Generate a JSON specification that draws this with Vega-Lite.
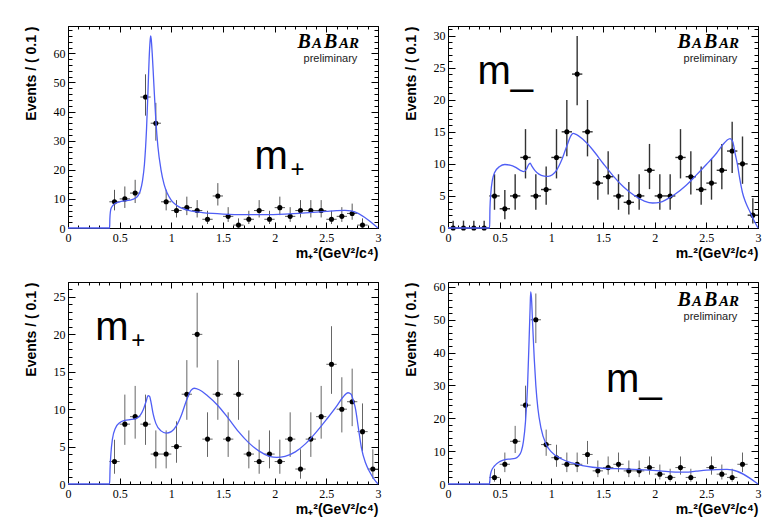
{
  "$schema": "https://vega.github.io/schema/vega-lite/v6.json",
  "background": "white",
  "padding": {"left": 23, "top": 25, "right": 5, "bottom": 5},
  "config": {"view": {"stroke": "#000", "strokeWidth": 1}, "font": "Liberation Sans",
    "axis": {"domain": false, "grid": false, "tickColor": "#000", "tickWidth": 1, "labelFont": "Liberation Serif", "labelFontSize": 12, "labelColor": "#000", "labelFlush": false, "labelOverlap": false, "titleFont": "Liberation Sans", "titleFontSize": 14, "titleFontWeight": "bold", "titleColor": "#000"}},
  "datasets": {
    "pts": [
      {"p":1,"x":0.45,"x0":0.4,"x1":0.5,"n":9,"lo":6.06,"hi":13.11},
      {"p":1,"x":0.55,"x0":0.5,"x1":0.6,"n":10,"lo":6.89,"hi":14.27},
      {"p":1,"x":0.65,"x0":0.6,"x1":0.7,"n":12,"lo":8.58,"hi":16.56},
      {"p":1,"x":0.75,"x0":0.7,"x1":0.8,"n":45,"lo":38.6,"hi":52.8},
      {"p":1,"x":0.85,"x0":0.8,"x1":0.9,"n":36,"lo":30.0,"hi":43.0},
      {"p":1,"x":0.95,"x0":0.9,"x1":1.0,"n":9,"lo":6.06,"hi":13.11},
      {"p":1,"x":1.05,"x0":1.0,"x1":1.1,"n":6,"lo":3.62,"hi":9.58},
      {"p":1,"x":1.15,"x0":1.1,"x1":1.2,"n":7,"lo":4.42,"hi":10.77},
      {"p":1,"x":1.25,"x0":1.2,"x1":1.3,"n":6,"lo":3.62,"hi":9.58},
      {"p":1,"x":1.35,"x0":1.3,"x1":1.4,"n":3,"lo":1.37,"hi":5.92},
      {"p":1,"x":1.45,"x0":1.4,"x1":1.5,"n":11,"lo":7.73,"hi":15.42},
      {"p":1,"x":1.55,"x0":1.5,"x1":1.6,"n":4,"lo":2.09,"hi":7.16},
      {"p":1,"x":1.65,"x0":1.6,"x1":1.7,"n":1,"lo":0.17,"hi":3.3},
      {"p":1,"x":1.75,"x0":1.7,"x1":1.8,"n":3,"lo":1.37,"hi":5.92},
      {"p":1,"x":1.85,"x0":1.8,"x1":1.9,"n":6,"lo":3.62,"hi":9.58},
      {"p":1,"x":1.95,"x0":1.9,"x1":2.0,"n":3,"lo":1.37,"hi":5.92},
      {"p":1,"x":2.05,"x0":2.0,"x1":2.1,"n":7,"lo":4.42,"hi":10.77},
      {"p":1,"x":2.15,"x0":2.1,"x1":2.2,"n":4,"lo":2.09,"hi":7.16},
      {"p":1,"x":2.25,"x0":2.2,"x1":2.3,"n":6,"lo":3.62,"hi":9.58},
      {"p":1,"x":2.35,"x0":2.3,"x1":2.4,"n":6,"lo":3.62,"hi":9.58},
      {"p":1,"x":2.45,"x0":2.4,"x1":2.5,"n":6,"lo":3.62,"hi":9.58},
      {"p":1,"x":2.55,"x0":2.5,"x1":2.6,"n":3,"lo":1.37,"hi":5.92},
      {"p":1,"x":2.65,"x0":2.6,"x1":2.7,"n":4,"lo":2.09,"hi":7.16},
      {"p":1,"x":2.75,"x0":2.7,"x1":2.8,"n":5,"lo":2.84,"hi":8.38},
      {"p":1,"x":2.85,"x0":2.8,"x1":2.9,"n":1,"lo":0.17,"hi":3.3},

      {"p":2,"x":0.05,"x0":0.0,"x1":0.1,"n":0,"lo":0,"hi":1.15},
      {"p":2,"x":0.15,"x0":0.1,"x1":0.2,"n":0,"lo":0,"hi":1.15},
      {"p":2,"x":0.25,"x0":0.2,"x1":0.3,"n":0,"lo":0,"hi":1.15},
      {"p":2,"x":0.35,"x0":0.3,"x1":0.4,"n":0,"lo":0,"hi":1.15},
      {"p":2,"x":0.45,"x0":0.4,"x1":0.5,"n":5,"lo":2.84,"hi":8.38},
      {"p":2,"x":0.55,"x0":0.5,"x1":0.6,"n":3,"lo":1.37,"hi":5.92},
      {"p":2,"x":0.65,"x0":0.6,"x1":0.7,"n":5,"lo":2.84,"hi":8.38},
      {"p":2,"x":0.75,"x0":0.7,"x1":0.8,"n":11,"lo":7.73,"hi":15.42},
      {"p":2,"x":0.85,"x0":0.8,"x1":0.9,"n":5,"lo":2.84,"hi":8.38},
      {"p":2,"x":0.95,"x0":0.9,"x1":1.0,"n":6,"lo":3.62,"hi":9.58},
      {"p":2,"x":1.05,"x0":1.0,"x1":1.1,"n":11,"lo":7.73,"hi":15.42},
      {"p":2,"x":1.15,"x0":1.1,"x1":1.2,"n":15,"lo":11.17,"hi":19.96},
      {"p":2,"x":1.25,"x0":1.2,"x1":1.3,"n":24,"lo":19.14,"hi":29.94},
      {"p":2,"x":1.35,"x0":1.3,"x1":1.4,"n":15,"lo":11.17,"hi":19.96},
      {"p":2,"x":1.45,"x0":1.4,"x1":1.5,"n":7,"lo":4.42,"hi":10.77},
      {"p":2,"x":1.55,"x0":1.5,"x1":1.6,"n":8,"lo":5.23,"hi":11.95},
      {"p":2,"x":1.65,"x0":1.6,"x1":1.7,"n":5,"lo":2.84,"hi":8.38},
      {"p":2,"x":1.75,"x0":1.7,"x1":1.8,"n":4,"lo":2.09,"hi":7.16},
      {"p":2,"x":1.85,"x0":1.8,"x1":1.9,"n":5,"lo":2.84,"hi":8.38},
      {"p":2,"x":1.95,"x0":1.9,"x1":2.0,"n":9,"lo":6.06,"hi":13.11},
      {"p":2,"x":2.05,"x0":2.0,"x1":2.1,"n":5,"lo":2.84,"hi":8.38},
      {"p":2,"x":2.15,"x0":2.1,"x1":2.2,"n":5,"lo":2.84,"hi":8.38},
      {"p":2,"x":2.25,"x0":2.2,"x1":2.3,"n":11,"lo":7.73,"hi":15.42},
      {"p":2,"x":2.35,"x0":2.3,"x1":2.4,"n":8,"lo":5.23,"hi":11.95},
      {"p":2,"x":2.45,"x0":2.4,"x1":2.5,"n":6,"lo":3.62,"hi":9.58},
      {"p":2,"x":2.55,"x0":2.5,"x1":2.6,"n":7,"lo":4.42,"hi":10.77},
      {"p":2,"x":2.65,"x0":2.6,"x1":2.7,"n":9,"lo":6.06,"hi":13.11},
      {"p":2,"x":2.75,"x0":2.7,"x1":2.8,"n":12,"lo":8.58,"hi":16.56},
      {"p":2,"x":2.85,"x0":2.8,"x1":2.9,"n":10,"lo":6.89,"hi":14.27},
      {"p":2,"x":2.95,"x0":2.9,"x1":3.0,"n":2,"lo":0.71,"hi":4.64},

      {"p":3,"x":0.45,"x0":0.4,"x1":0.5,"n":3,"lo":1.37,"hi":5.92},
      {"p":3,"x":0.55,"x0":0.5,"x1":0.6,"n":8,"lo":5.23,"hi":11.95},
      {"p":3,"x":0.65,"x0":0.6,"x1":0.7,"n":9,"lo":6.06,"hi":13.11},
      {"p":3,"x":0.75,"x0":0.7,"x1":0.8,"n":8,"lo":5.23,"hi":11.95},
      {"p":3,"x":0.85,"x0":0.8,"x1":0.9,"n":4,"lo":2.09,"hi":7.16},
      {"p":3,"x":0.95,"x0":0.9,"x1":1.0,"n":4,"lo":2.09,"hi":7.16},
      {"p":3,"x":1.05,"x0":1.0,"x1":1.1,"n":5,"lo":2.84,"hi":8.38},
      {"p":3,"x":1.15,"x0":1.1,"x1":1.2,"n":12,"lo":8.58,"hi":16.56},
      {"p":3,"x":1.25,"x0":1.2,"x1":1.3,"n":20,"lo":15.57,"hi":25.56},
      {"p":3,"x":1.35,"x0":1.3,"x1":1.4,"n":6,"lo":3.62,"hi":9.58},
      {"p":3,"x":1.45,"x0":1.4,"x1":1.5,"n":12,"lo":8.58,"hi":16.56},
      {"p":3,"x":1.55,"x0":1.5,"x1":1.6,"n":6,"lo":3.62,"hi":9.58},
      {"p":3,"x":1.65,"x0":1.6,"x1":1.7,"n":12,"lo":8.58,"hi":16.56},
      {"p":3,"x":1.75,"x0":1.7,"x1":1.8,"n":4,"lo":2.09,"hi":7.16},
      {"p":3,"x":1.85,"x0":1.8,"x1":1.9,"n":3,"lo":1.37,"hi":5.92},
      {"p":3,"x":1.95,"x0":1.9,"x1":2.0,"n":4,"lo":2.09,"hi":7.16},
      {"p":3,"x":2.05,"x0":2.0,"x1":2.1,"n":3,"lo":1.37,"hi":5.92},
      {"p":3,"x":2.15,"x0":2.1,"x1":2.2,"n":6,"lo":3.62,"hi":9.58},
      {"p":3,"x":2.25,"x0":2.2,"x1":2.3,"n":2,"lo":0.71,"hi":4.64},
      {"p":3,"x":2.35,"x0":2.3,"x1":2.4,"n":6,"lo":3.62,"hi":9.58},
      {"p":3,"x":2.45,"x0":2.4,"x1":2.5,"n":9,"lo":6.06,"hi":13.11},
      {"p":3,"x":2.55,"x0":2.5,"x1":2.6,"n":16,"lo":12.05,"hi":21.09},
      {"p":3,"x":2.65,"x0":2.6,"x1":2.7,"n":10,"lo":6.89,"hi":14.27},
      {"p":3,"x":2.75,"x0":2.7,"x1":2.8,"n":11,"lo":7.73,"hi":15.42},
      {"p":3,"x":2.85,"x0":2.8,"x1":2.9,"n":7,"lo":4.42,"hi":10.77},
      {"p":3,"x":2.95,"x0":2.9,"x1":3.0,"n":2,"lo":0.71,"hi":4.64},

      {"p":4,"x":0.45,"x0":0.4,"x1":0.5,"n":2,"lo":0.71,"hi":4.64},
      {"p":4,"x":0.55,"x0":0.5,"x1":0.6,"n":6,"lo":3.62,"hi":9.58},
      {"p":4,"x":0.65,"x0":0.6,"x1":0.7,"n":13,"lo":9.44,"hi":17.7},
      {"p":4,"x":0.75,"x0":0.7,"x1":0.8,"n":24,"lo":19.14,"hi":29.94},
      {"p":4,"x":0.85,"x0":0.8,"x1":0.9,"n":50,"lo":42.9,"hi":58.0},
      {"p":4,"x":0.95,"x0":0.9,"x1":1.0,"n":12,"lo":8.58,"hi":16.56},
      {"p":4,"x":1.05,"x0":1.0,"x1":1.1,"n":8,"lo":5.23,"hi":11.95},
      {"p":4,"x":1.15,"x0":1.1,"x1":1.2,"n":6,"lo":3.62,"hi":9.58},
      {"p":4,"x":1.25,"x0":1.2,"x1":1.3,"n":6,"lo":3.62,"hi":9.58},
      {"p":4,"x":1.35,"x0":1.3,"x1":1.4,"n":9,"lo":6.06,"hi":13.11},
      {"p":4,"x":1.45,"x0":1.4,"x1":1.5,"n":4,"lo":2.09,"hi":7.16},
      {"p":4,"x":1.55,"x0":1.5,"x1":1.6,"n":5,"lo":2.84,"hi":8.38},
      {"p":4,"x":1.65,"x0":1.6,"x1":1.7,"n":6,"lo":3.62,"hi":9.58},
      {"p":4,"x":1.75,"x0":1.7,"x1":1.8,"n":4,"lo":2.09,"hi":7.16},
      {"p":4,"x":1.85,"x0":1.8,"x1":1.9,"n":4,"lo":2.09,"hi":7.16},
      {"p":4,"x":1.95,"x0":1.9,"x1":2.0,"n":5,"lo":2.84,"hi":8.38},
      {"p":4,"x":2.05,"x0":2.0,"x1":2.1,"n":3,"lo":1.37,"hi":5.92},
      {"p":4,"x":2.15,"x0":2.1,"x1":2.2,"n":2,"lo":0.71,"hi":4.64},
      {"p":4,"x":2.25,"x0":2.2,"x1":2.3,"n":5,"lo":2.84,"hi":8.38},
      {"p":4,"x":2.35,"x0":2.3,"x1":2.4,"n":2,"lo":0.71,"hi":4.64},
      {"p":4,"x":2.55,"x0":2.5,"x1":2.6,"n":5,"lo":2.84,"hi":8.38},
      {"p":4,"x":2.65,"x0":2.6,"x1":2.7,"n":3,"lo":1.37,"hi":5.92},
      {"p":4,"x":2.75,"x0":2.7,"x1":2.8,"n":2,"lo":0.71,"hi":4.64},
      {"p":4,"x":2.85,"x0":2.8,"x1":2.9,"n":6,"lo":3.62,"hi":9.58}
    ],
    "fit": [
      {"p":1,"x":0,"y":0},{"p":1,"x":0.4,"y":0},{"p":1,"x":0.403,"y":0},{"p":1,"x":0.405,"y":3},{"p":1,"x":0.41,"y":5.5},{"p":1,"x":0.42,"y":7},{"p":1,"x":0.45,"y":8.3},{"p":1,"x":0.5,"y":9},{"p":1,"x":0.55,"y":9.3},{"p":1,"x":0.6,"y":9.6},{"p":1,"x":0.65,"y":10.2},{"p":1,"x":0.68,"y":11.2},{"p":1,"x":0.7,"y":12.8},{"p":1,"x":0.72,"y":16},{"p":1,"x":0.74,"y":22},{"p":1,"x":0.76,"y":34},{"p":1,"x":0.775,"y":48},{"p":1,"x":0.785,"y":58},{"p":1,"x":0.795,"y":64.5},{"p":1,"x":0.8,"y":66},{"p":1,"x":0.805,"y":65},{"p":1,"x":0.815,"y":60},{"p":1,"x":0.83,"y":50},{"p":1,"x":0.85,"y":37},{"p":1,"x":0.87,"y":28},{"p":1,"x":0.9,"y":20},{"p":1,"x":0.93,"y":15},{"p":1,"x":0.96,"y":12},{"p":1,"x":1.0,"y":9.5},{"p":1,"x":1.05,"y":7.8},{"p":1,"x":1.1,"y":6.8},{"p":1,"x":1.2,"y":5.8},{"p":1,"x":1.3,"y":5.3},{"p":1,"x":1.4,"y":5.0},{"p":1,"x":1.5,"y":4.8},{"p":1,"x":1.7,"y":4.6},{"p":1,"x":1.9,"y":4.6},{"p":1,"x":2.1,"y":4.8},{"p":1,"x":2.3,"y":5.2},{"p":1,"x":2.5,"y":5.7},{"p":1,"x":2.6,"y":5.95},{"p":1,"x":2.68,"y":6.05},{"p":1,"x":2.74,"y":5.9},{"p":1,"x":2.77,"y":5.6},{"p":1,"x":3.0,"y":0},

      {"p":2,"x":0,"y":0},{"p":2,"x":0.4,"y":0},{"p":2,"x":0.403,"y":0},{"p":2,"x":0.406,"y":3},{"p":2,"x":0.415,"y":5.5},{"p":2,"x":0.43,"y":7.5},{"p":2,"x":0.45,"y":8.6},{"p":2,"x":0.5,"y":9.6},{"p":2,"x":0.55,"y":9.9},{"p":2,"x":0.6,"y":9.8},{"p":2,"x":0.65,"y":9.5},{"p":2,"x":0.7,"y":9.0},{"p":2,"x":0.735,"y":8.8},{"p":2,"x":0.76,"y":9.2},{"p":2,"x":0.78,"y":9.9},{"p":2,"x":0.795,"y":10.1},{"p":2,"x":0.81,"y":9.7},{"p":2,"x":0.84,"y":9.0},{"p":2,"x":0.88,"y":8.4},{"p":2,"x":0.93,"y":8.1},{"p":2,"x":0.97,"y":8.05},{"p":2,"x":1.01,"y":8.3},{"p":2,"x":1.05,"y":9.0},{"p":2,"x":1.1,"y":10.6},{"p":2,"x":1.15,"y":12.8},{"p":2,"x":1.19,"y":14.4},{"p":2,"x":1.21,"y":14.75},{"p":2,"x":1.24,"y":14.6},{"p":2,"x":1.3,"y":13.9},{"p":2,"x":1.4,"y":12.2},{"p":2,"x":1.5,"y":10.1},{"p":2,"x":1.6,"y":8.1},{"p":2,"x":1.7,"y":6.4},{"p":2,"x":1.8,"y":5.1},{"p":2,"x":1.9,"y":4.2},{"p":2,"x":1.98,"y":3.9},{"p":2,"x":2.05,"y":4.0},{"p":2,"x":2.12,"y":4.5},{"p":2,"x":2.2,"y":5.3},{"p":2,"x":2.3,"y":6.6},{"p":2,"x":2.4,"y":8.2},{"p":2,"x":2.5,"y":9.9},{"p":2,"x":2.6,"y":11.7},{"p":2,"x":2.66,"y":13.0},{"p":2,"x":2.7,"y":13.7},{"p":2,"x":2.73,"y":13.95},{"p":2,"x":2.755,"y":13.5},{"p":2,"x":2.78,"y":11.5},{"p":2,"x":2.8,"y":10},{"p":2,"x":2.82,"y":8},{"p":2,"x":2.85,"y":5.5},{"p":2,"x":2.88,"y":4},{"p":2,"x":2.92,"y":2.6},{"p":2,"x":2.96,"y":1.2},{"p":2,"x":3.0,"y":0},

      {"p":3,"x":0,"y":0},{"p":3,"x":0.4,"y":0},{"p":3,"x":0.403,"y":0},{"p":3,"x":0.407,"y":2},{"p":3,"x":0.415,"y":4},{"p":3,"x":0.43,"y":6},{"p":3,"x":0.46,"y":7.5},{"p":3,"x":0.5,"y":8.2},{"p":3,"x":0.55,"y":8.5},{"p":3,"x":0.6,"y":8.6},{"p":3,"x":0.65,"y":8.7},{"p":3,"x":0.7,"y":9.2},{"p":3,"x":0.73,"y":10.0},{"p":3,"x":0.755,"y":11.0},{"p":3,"x":0.775,"y":11.8},{"p":3,"x":0.79,"y":11.7},{"p":3,"x":0.805,"y":10.8},{"p":3,"x":0.825,"y":9.3},{"p":3,"x":0.85,"y":8.1},{"p":3,"x":0.9,"y":7.1},{"p":3,"x":0.95,"y":6.8},{"p":3,"x":1.0,"y":7.0},{"p":3,"x":1.05,"y":7.8},{"p":3,"x":1.1,"y":9.3},{"p":3,"x":1.15,"y":11.3},{"p":3,"x":1.19,"y":12.5},{"p":3,"x":1.22,"y":12.8},{"p":3,"x":1.27,"y":12.6},{"p":3,"x":1.35,"y":11.8},{"p":3,"x":1.45,"y":10.5},{"p":3,"x":1.55,"y":8.8},{"p":3,"x":1.65,"y":7.0},{"p":3,"x":1.75,"y":5.5},{"p":3,"x":1.85,"y":4.4},{"p":3,"x":1.95,"y":3.7},{"p":3,"x":2.02,"y":3.55},{"p":3,"x":2.1,"y":3.7},{"p":3,"x":2.2,"y":4.3},{"p":3,"x":2.3,"y":5.4},{"p":3,"x":2.4,"y":6.9},{"p":3,"x":2.5,"y":8.6},{"p":3,"x":2.6,"y":10.4},{"p":3,"x":2.66,"y":11.6},{"p":3,"x":2.71,"y":12.2},{"p":3,"x":2.74,"y":12.0},{"p":3,"x":2.76,"y":11.2},{"p":3,"x":2.78,"y":10.2},{"p":3,"x":2.81,"y":7.5},{"p":3,"x":2.84,"y":4.8},{"p":3,"x":2.88,"y":2.8},{"p":3,"x":2.92,"y":1.6},{"p":3,"x":2.96,"y":0.7},{"p":3,"x":3.0,"y":0},

      {"p":4,"x":0,"y":0},{"p":4,"x":0.4,"y":0},{"p":4,"x":0.403,"y":0},{"p":4,"x":0.407,"y":2},{"p":4,"x":0.42,"y":4},{"p":4,"x":0.45,"y":5.5},{"p":4,"x":0.5,"y":6.8},{"p":4,"x":0.55,"y":7.4},{"p":4,"x":0.6,"y":7.6},{"p":4,"x":0.65,"y":7.8},{"p":4,"x":0.68,"y":8.4},{"p":4,"x":0.71,"y":10},{"p":4,"x":0.73,"y":13},{"p":4,"x":0.75,"y":19},{"p":4,"x":0.77,"y":30},{"p":4,"x":0.785,"y":44},{"p":4,"x":0.795,"y":54},{"p":4,"x":0.8,"y":58.5},{"p":4,"x":0.807,"y":57},{"p":4,"x":0.82,"y":48},{"p":4,"x":0.835,"y":38},{"p":4,"x":0.85,"y":30},{"p":4,"x":0.87,"y":23},{"p":4,"x":0.9,"y":17},{"p":4,"x":0.95,"y":12},{"p":4,"x":1.0,"y":9.8},{"p":4,"x":1.1,"y":7.6},{"p":4,"x":1.2,"y":6.4},{"p":4,"x":1.3,"y":5.6},{"p":4,"x":1.4,"y":5.1},{"p":4,"x":1.5,"y":4.8},{"p":4,"x":1.7,"y":4.6},{"p":4,"x":1.9,"y":4.3},{"p":4,"x":2.05,"y":4.0},{"p":4,"x":2.2,"y":3.6},{"p":4,"x":2.3,"y":3.6},{"p":4,"x":2.4,"y":3.9},{"p":4,"x":2.5,"y":4.2},{"p":4,"x":2.6,"y":4.4},{"p":4,"x":2.7,"y":4.45},{"p":4,"x":2.75,"y":4.3},{"p":4,"x":3.0,"y":0}
    ]
  },
  "columns": 2,
  "bounds": "flush",
  "spacing": {"row": 54, "column": 70},
  "concat": [
    {
      "width": 310, "height": 202,
      "resolve": {"axis": {"x": "independent", "y": "independent"}},
      "layer": [
        {"data": {"name": "pts"}, "transform": [{"filter": "datum.p == 1"}],
         "mark": {"type": "rule", "color": "#555", "strokeWidth": 1},
         "encoding": {
           "x": {"field": "x0", "type": "quantitative", "scale": {"domain": [0, 3], "nice": false, "zero": false},
             "axis": {"orient": "bottom", "offset": -6, "tickSize": 6, "values": [0,0.5,1,1.5,2,2.5,3], "format": "~g", "labelPadding": 4,
               "title": "m₊²(GeV²/c⁴)", "titleAnchor": "end", "titlePadding": 3}},
           "x2": {"field": "x1"},
           "y": {"field": "n", "type": "quantitative", "scale": {"domain": [0, 69.4], "nice": false, "zero": false},
             "axis": {"orient": "left", "offset": -7, "tickSize": 7, "values": [0,10,20,30,40,50,60], "labelPadding": 3,
               "title": "Events / ( 0.1 )", "titleAnchor": "end", "titlePadding": 15}}
         }},
        {"data": {"name": "pts"}, "transform": [{"filter": "datum.p == 1"}],
         "mark": {"type": "rule", "color": "#555", "strokeWidth": 1},
         "encoding": {
           "x": {"field": "x", "type": "quantitative", "axis": {"orient": "top", "offset": -6, "tickSize": 6, "values": [0,0.5,1,1.5,2,2.5,3], "labels": false, "title": null}},
           "y": {"field": "lo", "type": "quantitative", "axis": {"orient": "right", "offset": -7, "tickSize": 7, "values": [0,10,20,30,40,50,60], "labels": false, "title": null}},
           "y2": {"field": "hi"}
         }},
        {"data": {"name": "pts"}, "transform": [{"filter": "datum.p == 1"}],
         "mark": {"type": "circle", "color": "#000", "opacity": 1, "size": 26},
         "encoding": {
           "x": {"field": "x", "type": "quantitative", "axis": {"orient": "bottom", "offset": -3, "tickSize": 3, "values": [0,0.1,0.2,0.3,0.4,0.5,0.6,0.7,0.8,0.9,1,1.1,1.2,1.3,1.4,1.5,1.6,1.7,1.8,1.9,2,2.1,2.2,2.3,2.4,2.5,2.6,2.7,2.8,2.9,3], "labels": false, "title": null}},
           "y": {"field": "n", "type": "quantitative", "axis": {"orient": "left", "offset": -4, "tickSize": 4, "values": [0,2,4,6,8,10,12,14,16,18,20,22,24,26,28,30,32,34,36,38,40,42,44,46,48,50,52,54,56,58,60,62,64,66,68], "labels": false, "title": null}}}},
        {"data": {"name": "fit"}, "transform": [{"filter": "datum.p == 1"}],
         "mark": {"type": "line", "color": "#4f5ef5", "strokeWidth": 1.3, "interpolate": "monotone"},
         "encoding": {
           "x": {"field": "x", "type": "quantitative", "axis": {"orient": "top", "offset": -3, "tickSize": 3, "values": [0,0.1,0.2,0.3,0.4,0.5,0.6,0.7,0.8,0.9,1,1.1,1.2,1.3,1.4,1.5,1.6,1.7,1.8,1.9,2,2.1,2.2,2.3,2.4,2.5,2.6,2.7,2.8,2.9,3], "labels": false, "title": null}},
           "y": {"field": "y", "type": "quantitative", "axis": {"orient": "right", "offset": -4, "tickSize": 4, "values": [0,2,4,6,8,10,12,14,16,18,20,22,24,26,28,30,32,34,36,38,40,42,44,46,48,50,52,54,56,58,60,62,64,66,68], "labels": false, "title": null}}}},
        {"data": {"values": [{"t": "B"}]}, "mark": {"type": "text", "font": "Liberation Serif", "fontStyle": "italic", "fontWeight": "bold", "fontSize": 20, "align": "left", "baseline": "alphabetic", "color": "#000"},
         "encoding": {"text": {"field": "t"}, "x": {"datum": 2.22, "type": "quantitative", "axis": null}, "y": {"datum": 61.84, "type": "quantitative", "axis": null}}},
        {"data": {"values": [{"t": "A"}]}, "mark": {"type": "text", "font": "Liberation Serif", "fontStyle": "italic", "fontWeight": "bold", "fontSize": 15, "align": "left", "baseline": "alphabetic", "dx": 14.5, "color": "#000"},
         "encoding": {"text": {"field": "t"}, "x": {"datum": 2.22, "type": "quantitative", "axis": null}, "y": {"datum": 61.84, "type": "quantitative", "axis": null}}},
        {"data": {"values": [{"t": "B"}]}, "mark": {"type": "text", "font": "Liberation Serif", "fontStyle": "italic", "fontWeight": "bold", "fontSize": 20, "align": "left", "baseline": "alphabetic", "dx": 26.5, "color": "#000"},
         "encoding": {"text": {"field": "t"}, "x": {"datum": 2.22, "type": "quantitative", "axis": null}, "y": {"datum": 61.84, "type": "quantitative", "axis": null}}},
        {"data": {"values": [{"t": "AR"}]}, "mark": {"type": "text", "font": "Liberation Serif", "fontStyle": "italic", "fontWeight": "bold", "fontSize": 15, "align": "left", "baseline": "alphabetic", "dx": 41.5, "color": "#000"},
         "encoding": {"text": {"field": "t"}, "x": {"datum": 2.22, "type": "quantitative", "axis": null}, "y": {"datum": 61.84, "type": "quantitative", "axis": null}}},
        {"data": {"values": [{"t": "preliminary"}]}, "mark": {"type": "text", "font": "Liberation Sans", "fontSize": 11, "align": "center", "baseline": "alphabetic", "color": "#222"},
         "encoding": {"text": {"field": "t"}, "x": {"datum": 2.54, "type": "quantitative", "axis": null}, "y": {"datum": 56.86, "type": "quantitative", "axis": null}}},
        {"data": {"values": [{"t": "m"}]}, "mark": {"type": "text", "font": "Liberation Sans", "fontSize": 40, "align": "left", "baseline": "alphabetic", "color": "#000"},
         "encoding": {"text": {"field": "t"}, "x": {"datum": 1.805, "type": "quantitative", "axis": null}, "y": {"datum": 20.27, "type": "quantitative", "axis": null}}},
        {"data": {"values": [{"t": "+"}]}, "mark": {"type": "text", "font": "Liberation Sans", "fontSize": 24, "align": "center", "baseline": "alphabetic", "dx": 43, "dy": 8, "color": "#000"},
         "encoding": {"text": {"field": "t"}, "x": {"datum": 1.805, "type": "quantitative", "axis": null}, "y": {"datum": 20.27, "type": "quantitative", "axis": null}}}
      ]
    },
    {
      "width": 310, "height": 202,
      "resolve": {"axis": {"x": "independent", "y": "independent"}},
      "layer": [
        {"data": {"name": "pts"}, "transform": [{"filter": "datum.p == 2"}],
         "mark": {"type": "rule", "color": "#333", "strokeWidth": 1.4},
         "encoding": {
           "x": {"field": "x0", "type": "quantitative", "scale": {"domain": [0, 3], "nice": false, "zero": false},
             "axis": {"orient": "bottom", "offset": -6, "tickSize": 6, "values": [0,0.5,1,1.5,2,2.5,3], "format": "~g", "labelPadding": 4,
               "title": "m₋²(GeV²/c⁴)", "titleAnchor": "end", "titlePadding": 3}},
           "x2": {"field": "x1"},
           "y": {"field": "n", "type": "quantitative", "scale": {"domain": [0, 31.5], "nice": false, "zero": false},
             "axis": {"orient": "left", "offset": -7, "tickSize": 7, "values": [0,5,10,15,20,25,30], "labelPadding": 3,
               "title": "Events / ( 0.1 )", "titleAnchor": "end", "titlePadding": 15}}
         }},
        {"data": {"name": "pts"}, "transform": [{"filter": "datum.p == 2"}],
         "mark": {"type": "rule", "color": "#333", "strokeWidth": 1.4},
         "encoding": {
           "x": {"field": "x", "type": "quantitative", "axis": {"orient": "top", "offset": -6, "tickSize": 6, "values": [0,0.5,1,1.5,2,2.5,3], "labels": false, "title": null}},
           "y": {"field": "lo", "type": "quantitative", "axis": {"orient": "right", "offset": -7, "tickSize": 7, "values": [0,5,10,15,20,25,30], "labels": false, "title": null}},
           "y2": {"field": "hi"}
         }},
        {"data": {"name": "pts"}, "transform": [{"filter": "datum.p == 2"}],
         "mark": {"type": "circle", "color": "#000", "opacity": 1, "size": 26},
         "encoding": {
           "x": {"field": "x", "type": "quantitative", "axis": {"orient": "bottom", "offset": -3, "tickSize": 3, "values": [0,0.1,0.2,0.3,0.4,0.5,0.6,0.7,0.8,0.9,1,1.1,1.2,1.3,1.4,1.5,1.6,1.7,1.8,1.9,2,2.1,2.2,2.3,2.4,2.5,2.6,2.7,2.8,2.9,3], "labels": false, "title": null}},
           "y": {"field": "n", "type": "quantitative", "axis": {"orient": "left", "offset": -4, "tickSize": 4, "values": [0,1,2,3,4,5,6,7,8,9,10,11,12,13,14,15,16,17,18,19,20,21,22,23,24,25,26,27,28,29,30,31], "labels": false, "title": null}}}},
        {"data": {"name": "fit"}, "transform": [{"filter": "datum.p == 2"}],
         "mark": {"type": "line", "color": "#4f5ef5", "strokeWidth": 1.3, "interpolate": "monotone"},
         "encoding": {
           "x": {"field": "x", "type": "quantitative", "axis": {"orient": "top", "offset": -3, "tickSize": 3, "values": [0,0.1,0.2,0.3,0.4,0.5,0.6,0.7,0.8,0.9,1,1.1,1.2,1.3,1.4,1.5,1.6,1.7,1.8,1.9,2,2.1,2.2,2.3,2.4,2.5,2.6,2.7,2.8,2.9,3], "labels": false, "title": null}},
           "y": {"field": "y", "type": "quantitative", "axis": {"orient": "right", "offset": -4, "tickSize": 4, "values": [0,1,2,3,4,5,6,7,8,9,10,11,12,13,14,15,16,17,18,19,20,21,22,23,24,25,26,27,28,29,30,31], "labels": false, "title": null}}}},
        {"data": {"values": [{"t": "B"}]}, "mark": {"type": "text", "font": "Liberation Serif", "fontStyle": "italic", "fontWeight": "bold", "fontSize": 20, "align": "left", "baseline": "alphabetic", "color": "#000"},
         "encoding": {"text": {"field": "t"}, "x": {"datum": 2.22, "type": "quantitative", "axis": null}, "y": {"datum": 28.07, "type": "quantitative", "axis": null}}},
        {"data": {"values": [{"t": "A"}]}, "mark": {"type": "text", "font": "Liberation Serif", "fontStyle": "italic", "fontWeight": "bold", "fontSize": 15, "align": "left", "baseline": "alphabetic", "dx": 14.5, "color": "#000"},
         "encoding": {"text": {"field": "t"}, "x": {"datum": 2.22, "type": "quantitative", "axis": null}, "y": {"datum": 28.07, "type": "quantitative", "axis": null}}},
        {"data": {"values": [{"t": "B"}]}, "mark": {"type": "text", "font": "Liberation Serif", "fontStyle": "italic", "fontWeight": "bold", "fontSize": 20, "align": "left", "baseline": "alphabetic", "dx": 26.5, "color": "#000"},
         "encoding": {"text": {"field": "t"}, "x": {"datum": 2.22, "type": "quantitative", "axis": null}, "y": {"datum": 28.07, "type": "quantitative", "axis": null}}},
        {"data": {"values": [{"t": "AR"}]}, "mark": {"type": "text", "font": "Liberation Serif", "fontStyle": "italic", "fontWeight": "bold", "fontSize": 15, "align": "left", "baseline": "alphabetic", "dx": 41.5, "color": "#000"},
         "encoding": {"text": {"field": "t"}, "x": {"datum": 2.22, "type": "quantitative", "axis": null}, "y": {"datum": 28.07, "type": "quantitative", "axis": null}}},
        {"data": {"values": [{"t": "preliminary"}]}, "mark": {"type": "text", "font": "Liberation Sans", "fontSize": 11, "align": "center", "baseline": "alphabetic", "color": "#222"},
         "encoding": {"text": {"field": "t"}, "x": {"datum": 2.54, "type": "quantitative", "axis": null}, "y": {"datum": 25.81, "type": "quantitative", "axis": null}}},
        {"data": {"values": [{"t": "m_"}]}, "mark": {"type": "text", "font": "Liberation Sans", "fontSize": 40, "align": "left", "baseline": "alphabetic", "color": "#000"},
         "encoding": {"text": {"field": "t"}, "x": {"datum": 0.285, "type": "quantitative", "axis": null}, "y": {"datum": 22.4, "type": "quantitative", "axis": null}}}
      ]
    },
    {
      "width": 310, "height": 202,
      "resolve": {"axis": {"x": "independent", "y": "independent"}},
      "layer": [
        {"data": {"name": "pts"}, "transform": [{"filter": "datum.p == 3"}],
         "mark": {"type": "rule", "color": "#666", "strokeWidth": 1},
         "encoding": {
           "x": {"field": "x0", "type": "quantitative", "scale": {"domain": [0, 3], "nice": false, "zero": false},
             "axis": {"orient": "bottom", "offset": -6, "tickSize": 6, "values": [0,0.5,1,1.5,2,2.5,3], "format": "~g", "labelPadding": 4,
               "title": "m₊²(GeV²/c⁴)", "titleAnchor": "end", "titlePadding": 3}},
           "x2": {"field": "x1"},
           "y": {"field": "n", "type": "quantitative", "scale": {"domain": [0, 27], "nice": false, "zero": false},
             "axis": {"orient": "left", "offset": -7, "tickSize": 7, "values": [0,5,10,15,20,25], "labelPadding": 3,
               "title": "Events / ( 0.1 )", "titleAnchor": "end", "titlePadding": 15}}
         }},
        {"data": {"name": "pts"}, "transform": [{"filter": "datum.p == 3"}],
         "mark": {"type": "rule", "color": "#666", "strokeWidth": 1},
         "encoding": {
           "x": {"field": "x", "type": "quantitative", "axis": {"orient": "top", "offset": -6, "tickSize": 6, "values": [0,0.5,1,1.5,2,2.5,3], "labels": false, "title": null}},
           "y": {"field": "lo", "type": "quantitative", "axis": {"orient": "right", "offset": -7, "tickSize": 7, "values": [0,5,10,15,20,25], "labels": false, "title": null}},
           "y2": {"field": "hi"}
         }},
        {"data": {"name": "pts"}, "transform": [{"filter": "datum.p == 3"}],
         "mark": {"type": "circle", "color": "#000", "opacity": 1, "size": 26},
         "encoding": {
           "x": {"field": "x", "type": "quantitative", "axis": {"orient": "bottom", "offset": -3, "tickSize": 3, "values": [0,0.1,0.2,0.3,0.4,0.5,0.6,0.7,0.8,0.9,1,1.1,1.2,1.3,1.4,1.5,1.6,1.7,1.8,1.9,2,2.1,2.2,2.3,2.4,2.5,2.6,2.7,2.8,2.9,3], "labels": false, "title": null}},
           "y": {"field": "n", "type": "quantitative", "axis": {"orient": "left", "offset": -4, "tickSize": 4, "values": [0,1,2,3,4,5,6,7,8,9,10,11,12,13,14,15,16,17,18,19,20,21,22,23,24,25,26,27], "labels": false, "title": null}}}},
        {"data": {"name": "fit"}, "transform": [{"filter": "datum.p == 3"}],
         "mark": {"type": "line", "color": "#4f5ef5", "strokeWidth": 1.3, "interpolate": "monotone"},
         "encoding": {
           "x": {"field": "x", "type": "quantitative", "axis": {"orient": "top", "offset": -3, "tickSize": 3, "values": [0,0.1,0.2,0.3,0.4,0.5,0.6,0.7,0.8,0.9,1,1.1,1.2,1.3,1.4,1.5,1.6,1.7,1.8,1.9,2,2.1,2.2,2.3,2.4,2.5,2.6,2.7,2.8,2.9,3], "labels": false, "title": null}},
           "y": {"field": "y", "type": "quantitative", "axis": {"orient": "right", "offset": -4, "tickSize": 4, "values": [0,1,2,3,4,5,6,7,8,9,10,11,12,13,14,15,16,17,18,19,20,21,22,23,24,25,26,27], "labels": false, "title": null}}}},
        {"data": {"values": [{"t": "m"}]}, "mark": {"type": "text", "font": "Liberation Sans", "fontSize": 40, "align": "left", "baseline": "alphabetic", "color": "#000"},
         "encoding": {"text": {"field": "t"}, "x": {"datum": 0.263, "type": "quantitative", "axis": null}, "y": {"datum": 19.2, "type": "quantitative", "axis": null}}},
        {"data": {"values": [{"t": "+"}]}, "mark": {"type": "text", "font": "Liberation Sans", "fontSize": 24, "align": "center", "baseline": "alphabetic", "dx": 43, "dy": 8, "color": "#000"},
         "encoding": {"text": {"field": "t"}, "x": {"datum": 0.263, "type": "quantitative", "axis": null}, "y": {"datum": 19.2, "type": "quantitative", "axis": null}}}
      ]
    },
    {
      "width": 310, "height": 202,
      "resolve": {"axis": {"x": "independent", "y": "independent"}},
      "layer": [
        {"data": {"name": "pts"}, "transform": [{"filter": "datum.p == 4"}],
         "mark": {"type": "rule", "color": "#666", "strokeWidth": 1},
         "encoding": {
           "x": {"field": "x0", "type": "quantitative", "scale": {"domain": [0, 3], "nice": false, "zero": false},
             "axis": {"orient": "bottom", "offset": -6, "tickSize": 6, "values": [0,0.5,1,1.5,2,2.5,3], "format": "~g", "labelPadding": 4,
               "title": "m₋²(GeV²/c⁴)", "titleAnchor": "end", "titlePadding": 3}},
           "x2": {"field": "x1"},
           "y": {"field": "n", "type": "quantitative", "scale": {"domain": [0, 61.5], "nice": false, "zero": false},
             "axis": {"orient": "left", "offset": -7, "tickSize": 7, "values": [0,10,20,30,40,50,60], "labelPadding": 3,
               "title": "Events / ( 0.1 )", "titleAnchor": "end", "titlePadding": 15}}
         }},
        {"data": {"name": "pts"}, "transform": [{"filter": "datum.p == 4"}],
         "mark": {"type": "rule", "color": "#666", "strokeWidth": 1},
         "encoding": {
           "x": {"field": "x", "type": "quantitative", "axis": {"orient": "top", "offset": -6, "tickSize": 6, "values": [0,0.5,1,1.5,2,2.5,3], "labels": false, "title": null}},
           "y": {"field": "lo", "type": "quantitative", "axis": {"orient": "right", "offset": -7, "tickSize": 7, "values": [0,10,20,30,40,50,60], "labels": false, "title": null}},
           "y2": {"field": "hi"}
         }},
        {"data": {"name": "pts"}, "transform": [{"filter": "datum.p == 4"}],
         "mark": {"type": "circle", "color": "#000", "opacity": 1, "size": 26},
         "encoding": {
           "x": {"field": "x", "type": "quantitative", "axis": {"orient": "bottom", "offset": -3, "tickSize": 3, "values": [0,0.1,0.2,0.3,0.4,0.5,0.6,0.7,0.8,0.9,1,1.1,1.2,1.3,1.4,1.5,1.6,1.7,1.8,1.9,2,2.1,2.2,2.3,2.4,2.5,2.6,2.7,2.8,2.9,3], "labels": false, "title": null}},
           "y": {"field": "n", "type": "quantitative", "axis": {"orient": "left", "offset": -4, "tickSize": 4, "values": [0,2,4,6,8,10,12,14,16,18,20,22,24,26,28,30,32,34,36,38,40,42,44,46,48,50,52,54,56,58,60], "labels": false, "title": null}}}},
        {"data": {"name": "fit"}, "transform": [{"filter": "datum.p == 4"}],
         "mark": {"type": "line", "color": "#4f5ef5", "strokeWidth": 1.3, "interpolate": "monotone"},
         "encoding": {
           "x": {"field": "x", "type": "quantitative", "axis": {"orient": "top", "offset": -3, "tickSize": 3, "values": [0,0.1,0.2,0.3,0.4,0.5,0.6,0.7,0.8,0.9,1,1.1,1.2,1.3,1.4,1.5,1.6,1.7,1.8,1.9,2,2.1,2.2,2.3,2.4,2.5,2.6,2.7,2.8,2.9,3], "labels": false, "title": null}},
           "y": {"field": "y", "type": "quantitative", "axis": {"orient": "right", "offset": -4, "tickSize": 4, "values": [0,2,4,6,8,10,12,14,16,18,20,22,24,26,28,30,32,34,36,38,40,42,44,46,48,50,52,54,56,58,60], "labels": false, "title": null}}}},
        {"data": {"values": [{"t": "B"}]}, "mark": {"type": "text", "font": "Liberation Serif", "fontStyle": "italic", "fontWeight": "bold", "fontSize": 20, "align": "left", "baseline": "alphabetic", "color": "#000"},
         "encoding": {"text": {"field": "t"}, "x": {"datum": 2.22, "type": "quantitative", "axis": null}, "y": {"datum": 54.2, "type": "quantitative", "axis": null}}},
        {"data": {"values": [{"t": "A"}]}, "mark": {"type": "text", "font": "Liberation Serif", "fontStyle": "italic", "fontWeight": "bold", "fontSize": 15, "align": "left", "baseline": "alphabetic", "dx": 14.5, "color": "#000"},
         "encoding": {"text": {"field": "t"}, "x": {"datum": 2.22, "type": "quantitative", "axis": null}, "y": {"datum": 54.2, "type": "quantitative", "axis": null}}},
        {"data": {"values": [{"t": "B"}]}, "mark": {"type": "text", "font": "Liberation Serif", "fontStyle": "italic", "fontWeight": "bold", "fontSize": 20, "align": "left", "baseline": "alphabetic", "dx": 26.5, "color": "#000"},
         "encoding": {"text": {"field": "t"}, "x": {"datum": 2.22, "type": "quantitative", "axis": null}, "y": {"datum": 54.2, "type": "quantitative", "axis": null}}},
        {"data": {"values": [{"t": "AR"}]}, "mark": {"type": "text", "font": "Liberation Serif", "fontStyle": "italic", "fontWeight": "bold", "fontSize": 15, "align": "left", "baseline": "alphabetic", "dx": 41.5, "color": "#000"},
         "encoding": {"text": {"field": "t"}, "x": {"datum": 2.22, "type": "quantitative", "axis": null}, "y": {"datum": 54.2, "type": "quantitative", "axis": null}}},
        {"data": {"values": [{"t": "preliminary"}]}, "mark": {"type": "text", "font": "Liberation Sans", "fontSize": 11, "align": "center", "baseline": "alphabetic", "color": "#222"},
         "encoding": {"text": {"field": "t"}, "x": {"datum": 2.54, "type": "quantitative", "axis": null}, "y": {"datum": 49.8, "type": "quantitative", "axis": null}}},
        {"data": {"values": [{"t": "m_"}]}, "mark": {"type": "text", "font": "Liberation Sans", "fontSize": 40, "align": "left", "baseline": "alphabetic", "color": "#000"},
         "encoding": {"text": {"field": "t"}, "x": {"datum": 1.53, "type": "quantitative", "axis": null}, "y": {"datum": 27.9, "type": "quantitative", "axis": null}}}
      ]
    }
  ]
}
